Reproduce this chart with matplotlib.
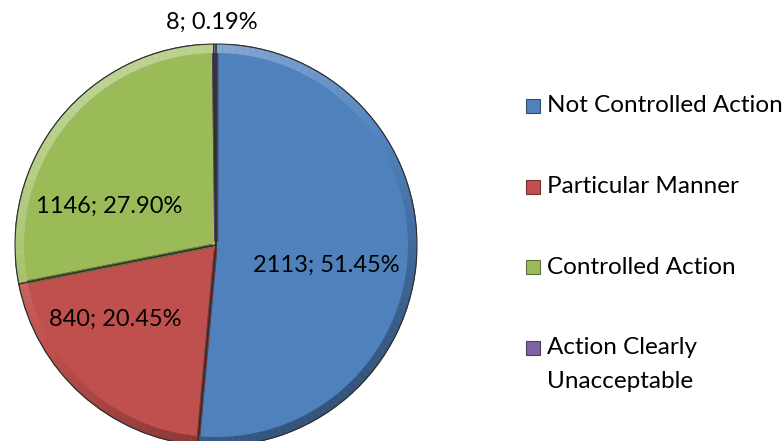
import numpy as np
import matplotlib
matplotlib.use("Agg")
import matplotlib.pyplot as plt
from matplotlib.patches import Wedge, Rectangle
import matplotlib.colors as mcolors

categories = ["Not Controlled Action", "Particular Manner", "Controlled Action",
              "Action Clearly\nUnacceptable"]
counts = [2113, 840, 1146, 8]
percents = [51.45, 20.45, 27.90, 0.19]
colors = ["#4F81BD", "#C0504D", "#9BBB59", "#8064A2"]

plt.rcParams['font.family'] = ['Lato', 'DejaVu Sans']

W, H = 784, 441
fig = plt.figure(figsize=(W / 100, H / 100), dpi=100)
cx, cy, r = 216, 245, 201
ax = fig.add_axes([(cx - r) / W, (H - cy - r) / H, 2 * r / W, 2 * r / H])
ax.axis('off')

wedges, _ = ax.pie(counts, colors=colors, startangle=90, counterclock=False,
                   radius=1.0, wedgeprops=dict(linewidth=0.8, edgecolor="#3a3a3a"))
ax.set_xlim(-1, 1)
ax.set_ylim(-1, 1)
ax.set_aspect('equal')

def shade(c, f):
    rgb = np.array(mcolors.to_rgb(c))
    if f > 0:
        return tuple(rgb + (1 - rgb) * f)
    return tuple(rgb * (1 + f))

for w, c in zip(wedges, colors):
    t1, t2 = w.theta1, w.theta2
    n = max(2, int((t2 - t1) / 2))
    angs = np.linspace(t1, t2, n + 1)
    for a0, a1 in zip(angs[:-1], angs[1:]):
        am = np.deg2rad((a0 + a1) / 2)
        f = 0.35 * np.cos(am - np.deg2rad(120))
        ax.add_patch(Wedge((0, 0), 1.0, a0, a1, width=0.045,
                           facecolor=shade(c, f), edgecolor='none', zorder=3))
    for ang in (t1, t2):
        a = np.deg2rad(ang)
        ax.plot([0.02 * np.cos(a), 0.97 * np.cos(a)], [0.02 * np.sin(a), 0.97 * np.sin(a)],
                color=shade(c, -0.35), lw=2.5, zorder=2.5, solid_capstyle='butt')
    ax.add_patch(Wedge((0, 0), 1.0, t1, t2, fill=False, edgecolor="#2f2f2f",
                       linewidth=0.8, zorder=4))

label_pos = [(0.55, -0.10), (-0.50, -0.37), (-0.53, 0.19), (-0.02, 1.11)]
for (x, y), cnt, p in zip(label_pos, counts, percents):
    ax.text(x, y, f"{cnt}; {p:.2f}%", ha='center', va='center', fontsize=17,
            color='black', zorder=5, clip_on=False)

leg_y = [106, 187, 267, 348]
line_step = 33
for yy, c, lab in zip(leg_y, colors, categories):
    fig.patches.append(Rectangle((526 / W, (H - yy - 7) / H), 14 / W, 14 / H,
                                 transform=fig.transFigure, facecolor=c,
                                 edgecolor=shade(c, -0.4), linewidth=0.8))
    for k, line in enumerate(lab.split('\n')):
        fig.text(547 / W, (H - yy - k * line_step) / H, line, ha='left', va='center',
                 fontsize=17.5, color='black')

fig.savefig("out.png", dpi=100, facecolor='white')
